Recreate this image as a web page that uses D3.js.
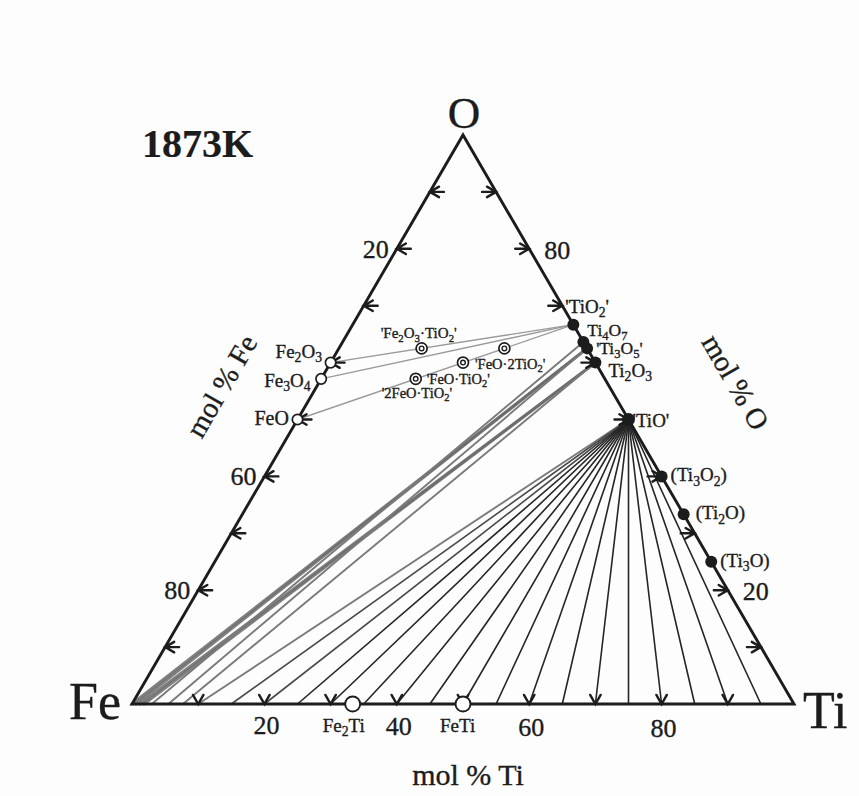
<!DOCTYPE html>
<html><head><meta charset="utf-8">
<script src="https://cdn.jsdelivr.net/npm/d3@7"></script>
<style>
body{margin:0;background:#fff}
svg{display:block}
text{font-family:"Liberation Serif","Times New Roman",serif;fill:#1c1c1c;stroke:#1c1c1c;stroke-width:0.35px}
</style>
</head><body>
<svg id="c" width="859" height="796"></svg>
<script>
// ---------------- data ----------------
const temperature = "1873K";
const vertexNames = ["Fe", "Ti", "O"];
const axisTicks = [10, 20, 30, 40, 50, 60, 70, 80, 90];
const tiTickLabels = [20, 40, 60, 80];
const feTickLabels = [20, 60, 80];
const oTickLabels = [80, 20];
const axisTitles = ["mol % Ti", "mol % Fe", "mol % O"];

// compositions as atom counts [Fe, Ti, O]
const feOxides = [
  {name: "Fe_2O_3", c: [2, 0, 3]},
  {name: "Fe_3O_4", c: [3, 0, 4]},
  {name: "FeO", c: [1, 0, 1]}
];
const feTiPhases = [
  {name: "Fe_2Ti", c: [2, 1, 0]},
  {name: "FeTi", c: [1, 1, 0]}
];
const tiOxides = [
  {name: "'TiO_2'", c: [0, 1, 2]},
  {name: "Ti_4O_7", c: [0, 4, 7]},
  {name: "'Ti_3O_5'", c: [0, 3, 5]},
  {name: "Ti_2O_3", c: [0, 2, 3]},
  {name: "'TiO'", c: [0, 1, 1]},
  {name: "(Ti_3O_2)", c: [0, 3, 2]},
  {name: "(Ti_2O)", c: [0, 2, 1]},
  {name: "(Ti_3O)", c: [0, 3, 1]}
];
const ternaryOxides = [
  {name: "'Fe_2O_3·TiO_2'", c: [2, 1, 5]},
  {name: "'FeO·2TiO_2'", c: [1, 2, 5]},
  {name: "'FeO·TiO_2'", c: [1, 1, 3]},
  {name: "'2FeO·TiO_2'", c: [2, 1, 4]}
];
// Fe-oxide / TiO2 joins (from, to)
const joins = [
  ["Fe_2O_3", "'TiO_2'"],
  ["Fe_3O_4", "'TiO_2'"],
  ["FeO", "'TiO_2'"]
];
// tie lines: mol % Ti of the Fe-Ti liquid end, oxide end
const tiesThickGrey = [[0, "'Ti_3O_5'"], [0.6, "'Ti_3O_5'"], [1.2, "Ti_2O_3"], [1.8, "Ti_2O_3"]];
const tiesGrey = [[3, "Ti_4O_7"], [5.5, "'Ti_3O_5'"], [7.7, "Ti_2O_3"], [10, "'TiO'"]];
const tiesToTiO = [15, 20, 25, 30, 35, 40, 45, 50, 55, 60, 65, 70, 75, 80, 85, 90, 95];

// ---------------- drawing ----------------
const svg = d3.select("#c");
svg.append("rect").attr("width", 859).attr("height", 796).attr("fill", "#fdfdfe");

const xS = d3.scaleLinear().domain([0, 1]).range([132, 794]);
const yS = d3.scaleLinear().domain([0, 1]).range([704, 135]);
function P(c) {
  const s = c[0] + c[1] + c[2];
  const ti = c[1] / s, o = c[2] / s;
  return [xS(ti + o / 2), yS(o)];
}
const all = {};
[...feOxides, ...feTiPhases, ...tiOxides, ...ternaryOxides].forEach(d => all[d.name] = d);
const line = d3.line();

function richText(sel, str, size) {
  const parts = str.split(/(_\d)/).filter(s => s.length);
  let sub = false;
  parts.forEach(p => {
    if (p[0] === "_") {
      sel.append("tspan").attr("font-size", size * 0.72).attr("dy", size * 0.22).text(p.slice(1));
      sub = true;
    } else {
      const t = sel.append("tspan").text(p);
      if (sub) { t.attr("dy", -size * 0.22); sub = false; }
    }
  });
}
function label(str, x, y, size, anchor) {
  const t = svg.append("text").attr("x", x).attr("y", y).attr("font-size", size)
    .attr("text-anchor", anchor || "start");
  richText(t, str, size);
  return t;
}

const gTie = svg.append("g").attr("fill", "none").attr("stroke-linecap", "round");
joins.forEach(([a, b]) => {
  gTie.append("path").attr("d", line([P(all[a].c), P(all[b].c)]))
    .attr("stroke", "#9a9a9a").attr("stroke-width", 1.4);
});
tiesThickGrey.forEach(([t, ox]) => {
  gTie.append("path").attr("d", line([P([100 - t, t, 0]), P(all[ox].c)]))
    .attr("stroke", "#6a6a6a").attr("stroke-width", 3).attr("opacity", 0.85);
});
tiesGrey.forEach(([t, ox]) => {
  gTie.append("path").attr("d", line([P([100 - t, t, 0]), P(all[ox].c)]))
    .attr("stroke", "#7a7a7a").attr("stroke-width", 1.9);
});
tiesToTiO.forEach(t => {
  gTie.append("path").attr("d", line([P([100 - t, t, 0]), P(all["'TiO'"].c)]))
    .attr("stroke", t < 25 ? "#4a4a4a" : "#262626").attr("stroke-width", 1.6);
});

// triangle
const Fe = P([1, 0, 0]), Ti = P([0, 1, 0]), O = P([0, 0, 1]);
svg.append("path").attr("d", line([Fe, Ti, O]) + "Z").attr("fill", "none")
  .attr("stroke", "#1c1c1c").attr("stroke-width", 2.9).attr("stroke-linejoin", "miter");

// arrow ticks
const gTick = svg.append("g").attr("fill", "none").attr("stroke", "#1c1c1c")
  .attr("stroke-width", 2.4).attr("stroke-linecap", "round");
function arrow(p, d, stem) {
  const L = 10.5, a = 30 * Math.PI / 180;
  const rot = (v, ang) => [v[0] * Math.cos(ang) - v[1] * Math.sin(ang), v[0] * Math.sin(ang) + v[1] * Math.cos(ang)];
  const b = [-d[0], -d[1]];
  const r1 = rot(b, a), r2 = rot(b, -a);
  let path = `M${p[0] + L * r1[0]},${p[1] + L * r1[1]}L${p[0]},${p[1]}L${p[0] + L * r2[0]},${p[1] + L * r2[1]}`;
  if (stem) path += `M${p[0]},${p[1]}L${p[0] + stem * b[0]},${p[1] + stem * b[1]}`;
  gTick.append("path").attr("d", path);
}
axisTicks.forEach(v => {
  const t = v / 100;
  arrow(P([1 - t, t, 0]), [0, 1], 0);
  arrow(P([t, 0, 1 - t]), [-1, 0], 14);
  arrow(P([0, 1 - t, t]), [1, 0], 14);
});

// tick labels
tiTickLabels.forEach(v => {
  const p = P([100 - v, v, 0]);
  label(String(v), p[0] + 2, 733 + v * 0.05, 26, "middle");
});
feTickLabels.forEach(v => {
  const p = P([v, 0, 100 - v]);
  label(String(v), p[0] - 8, p[1] + 9, 26, "end");
});
oTickLabels.forEach(v => {
  const p = P([0, 100 - v, v]);
  label(String(v), p[0] + 15, p[1] + 10, 26, "start");
});

// markers
const gM = svg.append("g");
feOxides.forEach(d => {
  const p = P(d.c);
  gM.append("circle").attr("cx", p[0]).attr("cy", p[1]).attr("r", 5.2)
    .attr("fill", "#fff").attr("stroke", "#1c1c1c").attr("stroke-width", 1.7);
});
feTiPhases.forEach(d => {
  const p = P(d.c);
  gM.append("circle").attr("cx", p[0]).attr("cy", p[1]).attr("r", 7.5)
    .attr("fill", "#fff").attr("stroke", "#1c1c1c").attr("stroke-width", 1.9);
});
tiOxides.forEach(d => {
  const p = P(d.c);
  gM.append("circle").attr("cx", p[0]).attr("cy", p[1]).attr("r", d.name === "'TiO'" ? 6.5 : 6)
    .attr("fill", "#1c1c1c");
});
ternaryOxides.forEach(d => {
  const p = P(d.c);
  gM.append("circle").attr("cx", p[0]).attr("cy", p[1]).attr("r", 5.5)
    .attr("fill", "#fff").attr("stroke", "#1c1c1c").attr("stroke-width", 1.7);
  gM.append("circle").attr("cx", p[0]).attr("cy", p[1]).attr("r", 2.3)
    .attr("fill", "none").attr("stroke", "#1c1c1c").attr("stroke-width", 1.4);
});

// compound labels (offsets relative to marker)
const off = {
  "Fe_2O_3": [-55, -5, 19], "Fe_3O_4": [-57, 8, 19], "FeO": [-43, 5, 20],
  "Fe_2Ti": [-30, 28, 19], "FeTi": [-23, 28, 19],
  "'TiO_2'": [-8, -12, 19], "Ti_4O_7": [4, -6, 17.5], "'Ti_3O_5'": [9, 6, 17.5],
  "Ti_2O_3": [13, 14, 19], "'TiO'": [4, 7, 19],
  "(Ti_3O_2)": [9, 5, 19], "(Ti_2O)": [12, 5, 19], "(Ti_3O)": [9, 5, 19],
  "'Fe_2O_3·TiO_2'": [-41, -10, 15], "'FeO·2TiO_2'": [12, 6, 14.5],
  "'FeO·TiO_2'": [11, 5, 14.5], "'2FeO·TiO_2'": [-34, 19, 14.5]
};
const labelAnchor = {"'FeO·2TiO_2'": "'FeO·TiO_2'", "'FeO·TiO_2'": "'2FeO·TiO_2'"};
Object.keys(off).forEach(k => {
  const ref = all[labelAnchor[k] || k];
  const p = P(ref.c);
  const o = off[k];
  label(k, p[0] + o[0], p[1] + o[1], o[2], "start");
});

// vertex labels
label(vertexNames[0], 121, 719, 52, "end");
label(vertexNames[1], 803, 728, 52, "start");
label(vertexNames[2], O[0] + 1, 128, 45, "middle");

// axis titles
label(axisTitles[0], 468, 785, 30, "middle");
svg.append("text").attr("font-size", 29).attr("text-anchor", "middle")
  .attr("transform", "translate(230,391) rotate(-60)").text(axisTitles[1]);
svg.append("text").attr("font-size", 29).attr("text-anchor", "middle")
  .attr("transform", "translate(727,387) rotate(60)").text(axisTitles[2]);

// temperature
label(temperature, 142, 157, 40, "start").attr("font-weight", "bold").style("stroke-width", "0.2px");
</script>
</body></html>
